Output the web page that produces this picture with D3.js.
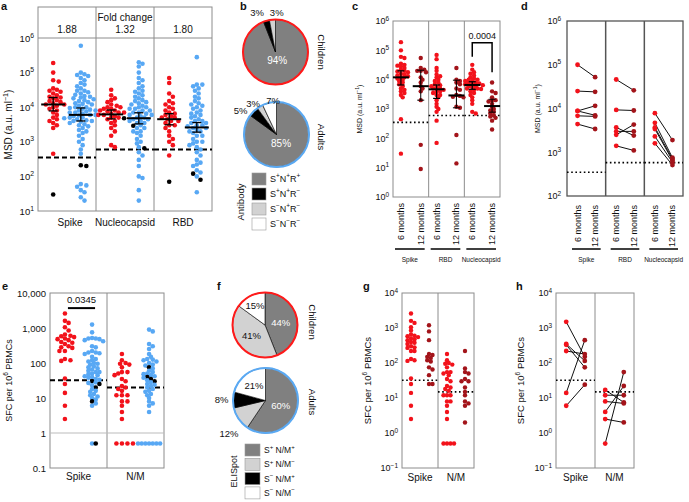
<!DOCTYPE html>
<html><head><meta charset="utf-8">
<script src="https://cdn.jsdelivr.net/npm/d3@7"></script>
<style>body{margin:0;background:#fff}svg{display:block}</style>
</head><body>
<svg id="fig" width="689" height="502"></svg>
<script>
// ================= DATA =================
// Panel a
const aCategories=["Spike","Nucleocapsid","RBD"];
const aFoldChange=["1.88","1.32","1.80"];
const aSpikeChild=[190000,100000,60000,55000,35000,32000,30000,28000,25000,22000,20000,19000,18000,16000,15000,14000,13000,12000,12000,11000,10000,9000,8000,7000,6000,5000,4500,4000,3500,3000,2500,450];
const aSpikeChildNeg=[30];
const aSpikeAdult=[600000,100000,90000,85000,80000,70000,60000,50000,45000,40000,35000,30000,30000,27000,25000,23000,21000,20000,19000,18000,17000,16000,15000,14000,13000,12500,12000,11000,10000,10000,9500,9000,8500,8000,8000,7500,7000,7000,6500,6000,6000,5800,5500,5000,5000,4800,4500,4200,4000,4000,3800,3500,3200,3000,2800,2500,2200,2000,1800,1500,1200,1000,800,600,450,60,55,50,40,35,25,20];
const aSpikeAdultNeg=[210,200];
const aNucChild=[32000,22000,18000,16000,14000,12000,11000,10000,10000,9000,9000,8000,8000,7500,7000,7000,6500,6000,6000,5500,5000,5000,4500,4000,3500,3000,2500,2000,1500,800,700];
const aNucChildNeg=[4800];
const aNucAdult=[200000,180000,150000,100000,70000,60000,50000,40000,35000,30000,28000,25000,22000,20000,18000,16000,15000,14000,13000,12000,11000,10000,10000,9000,9000,8000,8000,7000,7000,6500,6000,6000,5500,5000,5000,4500,4500,4000,4000,3500,3500,3000,2500,2500,2000,2000,1800,1500,1200,1000,900,700,500,400,300,200,100,90,40,20];
const aNucAdultNeg=[2900,650];
const aRbdChild=[70000,50000,25000,20000,15000,13000,12000,10000,9000,8000,7000,6500,6000,5500,5000,5000,4500,4000,4000,3500,3000,3000,2500,2000,1500,1200,1000,800,400];
const aRbdChildNeg=[70];
const aRbdAdult=[280000,45000,45000,40000,35000,30000,25000,20000,18000,15000,13000,12000,11000,10000,9000,8000,7000,6500,6000,5500,5000,4500,4000,4000,3500,3500,3000,3000,2800,2500,2500,2200,2000,2000,1800,1500,1500,1200,1000,1000,900,800,700,600,500,400,300,250,220,200,150,130,100,35];
const aRbdAdultNeg=[120,80];
const aMedianChild=[12000,6200,4500], aLowChild=[7800,4600,3100], aHighChild=[19000,8300,6500];
const aMedianAdult=[6000,4800,2600], aLowAdult=[4000,3300,1900], aHighAdult=[9500,6900,3600];
const aCutoff=[350,600,600];
const aTicks=[1e1,1e2,1e3,1e4,1e5,1e6];

// Panel b
const bLegend=["S^{+}N^{+}R^{+}","S^{+}N^{+}R^{−}","S^{−}N^{+}R^{−}","S^{−}N^{−}R^{−}"];
const bChildren=[94,3,3,0];
const bAdults=[85,5,3,7];

// Panel c
const cCategories=["Spike","RBD","Nucleocapsid"];
const cTimepoints=["6 months","12 months"];
const cSpike6=aSpikeChild.concat(aSpikeChildNeg);
const cSpike12=[55000,25000,22000,20000,20000,18000,12000,10000,8000,6000,5000,4000,2000,60,9];
const cRbd6=aRbdChild.concat(aRbdChildNeg);
const cRbd12=[25000,10000,9000,8000,7000,5000,4500,3000,2800,2600,2500,1200,1100,130,14];
const cNuc6=aNucChild.concat(aNucChildNeg);
const cNuc12=[8000,4000,3500,2500,2000,2000,1800,1500,1200,1000,900,800,700,600,550,500,400,200];
const cMedian6=[12000,4700,6600], cLow6=[6600,2300,4700], cHigh6=[20000,6600,8500];
const cMedian12=[6000,2900,1260], cLow12=[2000,1100,780], cHigh12=[21000,9600,2150];
const cCutoff=[350,600,600];
const cPValue="0.0004";
const cTicks=[1e0,1e1,1e2,1e3,1e4,1e5,1e6];

// Panel d (paired 6 -> 12 months)
const dSpikePairs=[[100000,52000],[25000,24000],[8800,11500],[8800,7000],[6800,6600],[4400,3400]];
const dRbdPairs=[[46000,26000],[9300,9000],[3700,2400],[3000,3000],[2500,4300],[1400,1100]];
const dNucPairs=[[7800,1900],[4700,750],[3700,700],[3400,650],[2300,590],[1600,510]];
const dCutoff=[350,580,580];
const dTicks=[1e2,1e3,1e4,1e5,1e6];

// Panel e
const eCategories=["Spike","N/M"];
const eSpikeChild=[2600,1600,1400,1050,850,650,600,580,550,500,480,450,400,380,350,300,280,270,220,220,130,120,115,36,25,14,6,2.5];
const eSpikeAdult=[1250,750,520,500,500,480,450,420,300,280,220,200,200,190,180,150,130,120,110,100,95,90,80,75,70,65,60,55,55,50,48,45,42,40,38,35,33,28,27,23,18,16,15,13,12,11,10,9,7,6,0.5];
const eSpikeAdultNeg=[30,25,20,8,0.5];
const eNMChild=[180,120,100,95,90,75,55,55,50,45,35,30,22,20,18,16,12,12,12,8,8,6,4,2.5,0.5,0.5,0.5,0.5];
const eNMAdult=[900,800,350,300,250,180,150,130,125,120,110,100,90,85,70,60,55,50,48,45,42,38,32,28,25,24,22,20,18,16,15,13,12,10,8,7,6,4,0.5,0.5,0.5,0.5,0.5,0.5,0.5];
const eNMAdultNeg=[75,40,35,30];
const eCutoff=[32,20];
const ePValue="0.0345";
const eTicks=[0.1,1,10,100,1000,10000];

// Panel f
const fLegend=["S^{+} N/M^{+}","S^{+} N/M^{−}","S^{−} N/M^{+}","S^{−} N/M^{−}"];
const fChildren=[44,41,0,15];
const fAdults=[60,12,8,21];

// Panel g
const gSpike6=eSpikeChild;
const gSpike12=[1200,800,450,180,170,150,140,120,110,75,65,45,25,25];
const gNM6=eNMChild;
const gNM12=[220,70,55,50,35,30,30,20,15,12,8,7,6,2];
const gCutoff=[32,15];
const gTicks=[0.1,1,10,100,1000,10000];

// Panel h (paired)
const hSpikePairs=[[1500,150],[350,115],[330,75],[220,180],[14,450],[6,24]];
const hNMPairs=[[17,7.5],[12,12],[8,7],[4,22],[2.5,2],[0.5,55]];
const hCutoff=[32,15];

// ================= DRAWING =================
const FONT="'Liberation Sans', Arial, Helvetica, sans-serif";
const COL={red:"#f2121b",dark:"#a3141a",blue:"#58a8f4",black:"#000",frame:"#8c8c8c",
  pieGrey:"#808080",pieLight:"#d2d2d2",pieBlack:"#000",pieWhite:"#fff"};
const svg=d3.select("#fig").attr("font-family",FONT);

function rich(t,s,fs){
  t.text(null);
  const re=/\^\{([^}]*)\}/g; let last=0,m,up=false; const sh=fs*0.42;
  while((m=re.exec(s))){
    if(m.index>last){t.append("tspan").attr("dy",up?sh:null).text(s.slice(last,m.index));up=false;}
    t.append("tspan").attr("dy",up?null:-sh).attr("font-size",fs*0.72).text(m[1]);up=true;
    last=re.lastIndex;
  }
  if(last<s.length)t.append("tspan").attr("dy",up?sh:null).text(s.slice(last));
}
function txt(x,y,s,fs,opt={}){
  const t=svg.append("text").attr("x",x).attr("y",y).attr("font-size",fs)
    .attr("text-anchor",opt.anchor||"middle").attr("fill",opt.fill||"#111");
  if(opt.weight)t.attr("font-weight",opt.weight);
  if(opt.rotate!=null)t.attr("transform",`rotate(${opt.rotate},${x},${y})`);
  rich(t,s,fs);return t;
}
function logAxis(x,y,ticks,fmt,fs){
  const g=svg.append("g").attr("transform",`translate(${x},0)`)
    .call(d3.axisLeft(y).tickValues(ticks).tickSize(0).tickPadding(4));
  g.select(".domain").remove();
  g.attr("font-family",FONT).attr("font-size",fs);
  g.selectAll(".tick text").attr("fill","#111").each(function(d){rich(d3.select(this),fmt(d),fs);});
}
const expFmt=d=>{const e=Math.round(Math.log10(d));return "10^{"+(e<0?"−"+(-e):e)+"}";};
function swarm(items,cx,y,r,f){
  const out=[];const d2=(2*r*f)**2;const step=r*0.8;
  items.slice().sort((a,b)=>b.v-a.v).forEach(it=>{
    const py=y(it.v);let px=cx;
    for(let k=0;k<120;k++){
      const tx=cx+(k%2?1:-1)*Math.ceil(k/2)*step;
      if(out.every(q=>(q.x-tx)**2+(q.y-py)**2>=d2)){px=tx;break;}
    }
    out.push({...it,x:px,y:py});
  });
  return out;
}
function dots(items,cx,y,r,f=0.9){
  svg.append("g").selectAll("circle").data(swarm(items,cx,y,r,f)).join("circle")
    .attr("cx",d=>d.x).attr("cy",d=>d.y).attr("r",r).attr("fill",d=>d.c);
}
const mk=(arr,c)=>arr.map(v=>({v,c}));
function summary(cx,y,med,lo,hi,hw,cw,sw){
  const g=svg.append("g").attr("stroke","#000");
  g.append("line").attr("x1",cx-hw).attr("x2",cx+hw).attr("y1",y(med)).attr("y2",y(med)).attr("stroke-width",2);
  g.append("line").attr("x1",cx).attr("x2",cx).attr("y1",y(lo)).attr("y2",y(hi)).attr("stroke-width",sw);
  [lo,hi].forEach(v=>g.append("line").attr("x1",cx-cw).attr("x2",cx+cw).attr("y1",y(v)).attr("y2",y(v)).attr("stroke-width",sw));
}
function hline(x1,x2,yy,opt){
  svg.append("line").attr("x1",x1).attr("x2",x2).attr("y1",yy).attr("y2",yy)
    .attr("stroke",opt.stroke||"#000").attr("stroke-width",opt.w||1).attr("stroke-dasharray",opt.dash||null);
}
function vline(xx,y1,y2,opt){
  svg.append("line").attr("x1",xx).attr("x2",xx).attr("y1",y1).attr("y2",y2)
    .attr("stroke",opt.stroke||"#000").attr("stroke-width",opt.w||1);
}
function frame(x0,x1,y0,y1,stroke,w){
  svg.append("rect").attr("x",x0).attr("y",y0).attr("width",x1-x0).attr("height",y1-y0)
    .attr("fill","none").attr("stroke",stroke).attr("stroke-width",w||1);
}
function panelLabel(x,y,s){txt(x,y,s,11,{anchor:"start",weight:"bold"});}

// ---------- Panel a ----------
{
  const x0=38,x1=212,yTop=38,yBot=211,head=7;
  const y=d3.scaleLog().domain([10,1e6]).range([yBot,yTop]);
  const xb=d3.scaleBand().domain(aCategories).range([x0,x1]);
  const sub=d3.scalePoint().domain(["Children","Adults"]).range([0,xb.bandwidth()]).padding(0.55);
  frame(x0,x1,head,yBot,COL.frame);
  hline(x0,x1,yTop,{stroke:COL.frame});
  aCategories.slice(1).forEach(c=>vline(xb(c),head,yBot,{stroke:COL.frame}));
  txt((x0+x1)/2,21,"Fold change",10);
  aCategories.forEach((c,i)=>txt(xb(c)+xb.bandwidth()/2,33,aFoldChange[i],10));
  const child=[aSpikeChild,aNucChild,aRbdChild],childNeg=[aSpikeChildNeg,aNucChildNeg,aRbdChildNeg];
  const adult=[aSpikeAdult,aNucAdult,aRbdAdult],adultNeg=[aSpikeAdultNeg,aNucAdultNeg,aRbdAdultNeg];
  aCategories.forEach((c,i)=>{
    hline(xb(c),xb(c)+xb.bandwidth(),y(aCutoff[i]),{w:2,dash:"5,3"});
  });
  aCategories.forEach((c,i)=>{
    const cx1=xb(c)+sub("Children"),cx2=xb(c)+sub("Adults");
    dots(mk(child[i],COL.red).concat(mk(childNeg[i],COL.black)),cx1,y,2.3,0.85);
    dots(mk(adult[i],COL.blue).concat(mk(adultNeg[i],COL.black)),cx2,y,2.3,0.85);
    summary(cx1,y,aMedianChild[i],aLowChild[i],aHighChild[i],12,4.5,1.3);
    summary(cx2,y,aMedianAdult[i],aLowAdult[i],aHighAdult[i],12,4.5,1.3);
    txt(xb(c)+xb.bandwidth()/2+(i==0?3:0),226,c,10);
  });
  logAxis(x0,y,aTicks,expFmt,9.5);
  txt(12,(yTop+yBot)/2,"MSD (a.u. ml^{−1})",10,{rotate:-90});
  panelLabel(1,10,"a");
}

// ---------- Pie helper ----------
function pie(cx,cy,r,vals,colors,ring,labelCfg){
  const arcs=d3.pie().sort(null).value(d=>d)(vals);
  const arc=d3.arc().innerRadius(0).outerRadius(r);
  const g=svg.append("g").attr("transform",`translate(${cx},${cy})`);
  g.selectAll("path").data(arcs.filter(a=>a.data>0)).join("path")
    .attr("d",arc).attr("fill",(d)=>colors[d.index]).attr("stroke","#000").attr("stroke-width",0.6);
  g.append("circle").attr("r",r).attr("fill","none").attr("stroke",ring).attr("stroke-width",2);
  arcs.forEach((a,i)=>{
    if(a.data<=0)return;
    const lc=labelCfg[i];
    const la=d3.arc().innerRadius(lc.r).outerRadius(lc.r);
    const [lx,ly]=la.centroid(a);
    txt(cx+lx+(lc.dx||0),cy+ly+3.5+(lc.dy||0),a.data+"%",lc.fs||9.5,{fill:lc.fill||"#111"});
  });
}
function legend(x,y0,step,w,h,colors,labels,title,titleX,fs){
  labels.forEach((l,i)=>{
    svg.append("rect").attr("x",x).attr("y",y0+i*step).attr("width",w).attr("height",h)
      .attr("fill",colors[i]).attr("stroke","#999").attr("stroke-width",0.6);
    txt(x+w+4,y0+i*step+h/2+3,l,fs,{anchor:"start"});
  });
  txt(titleX,y0+(labels.length*step)/2-1,title,fs+0.5,{rotate:-90});
}

// ---------- Panel b ----------
{
  const colors=[COL.pieGrey,COL.pieBlack,COL.pieLight,COL.pieWhite];
  pie(275.5,52,32.5,bChildren,colors,"#ff1a1a",
    [{r:9,fill:"#fff",fs:10},{r:41,dx:-7},{r:40,dx:5},{r:40}]);
  pie(276.5,134.5,32.5,bAdults,colors,"#5aa9f3",
    [{r:10,fill:"#fff",fs:10},{r:41,dx:-7,dy:5},{r:38,dx:-4,dy:2},{r:38,dx:5,dy:3}]);
  txt(318,52,"Children",9.5,{rotate:90});
  txt(318,137,"Adults",9.5,{rotate:90});
  legend(252,173,15,14,12,colors,bLegend,"Antibody",244,9);
  panelLabel(240,10,"b");
}

// ---------- Panel c ----------
{
  const x0=393,x1=500,yTop=21,yBot=197;
  const y=d3.scaleLog().domain([1,1e6]).range([yBot,yTop]);
  const xb=d3.scaleBand().domain(cCategories).range([x0,x1]);
  const sub=d3.scalePoint().domain(cTimepoints).range([0,xb.bandwidth()]).padding(0.4);
  frame(x0,x1,yTop,yBot,COL.frame);
  cCategories.slice(1).forEach(c=>vline(xb(c),yTop,yBot,{stroke:COL.frame}));
  cCategories.forEach((c,i)=>hline(xb(c),xb(c)+xb.bandwidth(),y(cCutoff[i]),{w:1.6,dash:"1.6,2.6"}));
  const v6=[cSpike6,cRbd6,cNuc6],v12=[cSpike12,cRbd12,cNuc12];
  cCategories.forEach((c,i)=>{
    const a=xb(c)+sub(cTimepoints[0]),b=xb(c)+sub(cTimepoints[1]);
    dots(mk(v6[i],COL.red),a,y,2.2,0.62);
    dots(mk(v12[i],COL.dark),b,y,2.2,0.62);
    summary(a,y,cMedian6[i],cLow6[i],cHigh6[i],8,3.5,1.2);
    summary(b,y,cMedian12[i],cLow12[i],cHigh12[i],8,3.5,1);
    txt(a+3,203,cTimepoints[0],9,{rotate:-90,anchor:"end"});
    txt(b+3,203,cTimepoints[1],9,{rotate:-90,anchor:"end"});
    hline(xb(c)+2,xb(c)+xb.bandwidth()-4,249,{w:1.5});
    txt(xb(c)+xb.bandwidth()/2-1,262,c,6.5);
  });
  const na=xb("Nucleocapsid")+sub(cTimepoints[0]),nb=xb("Nucleocapsid")+sub(cTimepoints[1]);
  svg.append("path").attr("fill","none").attr("stroke","#000").attr("stroke-width",1.5)
    .attr("d",`M${na},${y(60000)}V${y(180000)}H${nb}V${y(18000)}`);
  txt((na+nb)/2,39,cPValue,9);
  logAxis(x0,y,cTicks,expFmt,9);
  txt(362,(yTop+yBot)/2,"MSD (a.u. ml^{−1})",7,{rotate:-90});
  panelLabel(352,10,"c");
}

// ---------- Panel d ----------
{
  const x0=567,x1=683,yTop=21,yBot=196;
  const y=d3.scaleLog().domain([100,1e6]).range([yBot,yTop]);
  const xb=d3.scaleBand().domain(cCategories).range([x0,x1]);
  const sub=d3.scalePoint().domain(cTimepoints).range([0,xb.bandwidth()]).padding(0.6);
  frame(x0,x1,yTop,yBot,"#555",1.3);
  cCategories.slice(1).forEach(c=>vline(xb(c),yTop,yBot,{stroke:"#555",w:1.5}));
  cCategories.forEach((c,i)=>hline(xb(c),xb(c)+xb.bandwidth(),y(dCutoff[i]),{w:1.6,dash:"1.6,2.6"}));
  const pairs=[dSpikePairs,dRbdPairs,dNucPairs];
  cCategories.forEach((c,i)=>{
    const a=xb(c)+sub(cTimepoints[0]),b=xb(c)+sub(cTimepoints[1]);
    const g=svg.append("g");
    g.selectAll("line").data(pairs[i]).join("line").attr("x1",a).attr("x2",b)
      .attr("y1",d=>y(d[0])).attr("y2",d=>y(d[1])).attr("stroke","#111").attr("stroke-width",1);
    g.selectAll(".p6").data(pairs[i]).join("circle").attr("cx",a).attr("cy",d=>y(d[0])).attr("r",2.4).attr("fill",COL.red);
    g.selectAll(".p12").data(pairs[i]).join("circle").attr("cx",b).attr("cy",d=>y(d[1])).attr("r",2.4).attr("fill",COL.dark);
    txt(a+3,205,cTimepoints[0],9,{rotate:-90,anchor:"end"});
    txt(b+3,205,cTimepoints[1],9,{rotate:-90,anchor:"end"});
    hline(xb(c)+5,xb(c)+xb.bandwidth()-5,249,{w:1.5});
    txt(xb(c)+xb.bandwidth()/2,262,c,6.5);
  });
  logAxis(x0-2,y,dTicks,expFmt,9);
  txt(540,(yTop+yBot)/2,"MSD (a.u. ml^{−1})",7,{rotate:-90});
  panelLabel(521,10,"d");
}

// ---------- Panel e ----------
{
  const x0=50,x1=164,yTop=293,yBot=468;
  const y=d3.scaleLog().domain([0.1,1e4]).range([yBot,yTop]);
  const xb=d3.scaleBand().domain(eCategories).range([x0,x1]);
  const sub=d3.scalePoint().domain(["Children","Adults"]).range([0,xb.bandwidth()]).padding(0.55);
  frame(x0,x1,yTop,yBot,COL.frame);
  vline(xb("N/M"),yTop,yBot,{stroke:COL.frame});
  hline(x0,x1,y(1),{stroke:"#bbb",w:1});
  const ch=[eSpikeChild,eNMChild],ad=[eSpikeAdult,eNMAdult],adn=[eSpikeAdultNeg,eNMAdultNeg];
  eCategories.forEach((c,i)=>{
    hline(xb(c),xb(c)+xb.bandwidth(),y(eCutoff[i]),{w:2,dash:"5,3"});
  });
  eCategories.forEach((c,i)=>{
    dots(mk(ch[i],COL.red),xb(c)+sub("Children"),y,2.3,0.85);
    dots(mk(ad[i],COL.blue).concat(mk(adn[i],COL.black)),xb(c)+sub("Adults"),y,2.3,0.72);
    txt(xb(c)+xb.bandwidth()/2,480,c,10);
  });
  const sa=xb("Spike")+sub("Children"),sb=xb("Spike")+sub("Adults");
  hline(sa+3,sb+3,y(3700),{w:2});
  txt((sa+sb)/2+3,y(3700)-5,ePValue,9.5);
  const fmt=d=>d>=1?d3.format(",")(d):String(d);
  logAxis(x0,y,eTicks,fmt,9.5);
  txt(12,(yTop+yBot)/2,"SFC per 10^{6} PBMCs",9,{rotate:-90});
  panelLabel(2,290,"e");
}

// ---------- Panel f ----------
{
  const colors=[COL.pieGrey,COL.pieLight,COL.pieBlack,COL.pieWhite];
  pie(265,325,32.5,fChildren,colors,"#ff1a1a",
    [{r:16,fill:"#fff"},{r:17},{r:0},{r:22}]);
  pie(265.5,400.5,32.5,fAdults,colors,"#5aa9f3",
    [{r:16,fill:"#fff"},{r:48,dx:3,dy:6},{r:44},{r:19}]);
  txt(309,322,"Children",9.5,{rotate:90});
  txt(309,402,"Adults",9.5,{rotate:90});
  legend(245,444,14.3,15,12,colors,fLegend,"ELISpot",237,8.5);
  panelLabel(217,290,"f");
}

// ---------- Panel g ----------
{
  const x0=402,x1=474,yTop=293,yBot=468;
  const y=d3.scaleLog().domain([0.1,1e4]).range([yBot,yTop]);
  const xb=d3.scaleBand().domain(eCategories).range([x0,x1]);
  const sub=d3.scalePoint().domain(cTimepoints).range([0,xb.bandwidth()]).padding(0.5);
  frame(x0,x1,yTop,yBot,COL.frame);
  vline(xb("N/M"),yTop,yBot,{stroke:COL.frame});
  eCategories.forEach((c,i)=>hline(xb(c),xb(c)+xb.bandwidth(),y(gCutoff[i]),{w:1.6,dash:"1.6,2.6"}));
  const v6=[gSpike6,gNM6],v12=[gSpike12,gNM12];
  eCategories.forEach((c,i)=>{
    dots(mk(v6[i],COL.red),xb(c)+sub(cTimepoints[0]),y,2.2,0.72);
    dots(mk(v12[i],COL.dark),xb(c)+sub(cTimepoints[1]),y,2.2,0.72);
    txt(xb(c)+xb.bandwidth()/2,481,c,10);
  });
  logAxis(x0,y,gTicks,expFmt,9);
  txt(371,(yTop+yBot)/2,"SFC per 10^{6} PBMCs",9.5,{rotate:-90});
  panelLabel(363,290,"g");
}

// ---------- Panel h ----------
{
  const x0=556,x1=634,yTop=293,yBot=468;
  const y=d3.scaleLog().domain([0.1,1e4]).range([yBot,yTop]);
  const xb=d3.scaleBand().domain(eCategories).range([x0,x1]);
  const sub=d3.scalePoint().domain(cTimepoints).range([0,xb.bandwidth()]).padding(0.55);
  frame(x0,x1,yTop,yBot,COL.frame);
  vline(xb("N/M"),yTop,yBot,{stroke:COL.frame});
  eCategories.forEach((c,i)=>hline(xb(c),xb(c)+xb.bandwidth(),y(hCutoff[i]),{w:1.6,dash:"1.6,2.6"}));
  const pairs=[hSpikePairs,hNMPairs];
  eCategories.forEach((c,i)=>{
    const a=xb(c)+sub(cTimepoints[0]),b=xb(c)+sub(cTimepoints[1]);
    const g=svg.append("g");
    g.selectAll("line").data(pairs[i]).join("line").attr("x1",a).attr("x2",b)
      .attr("y1",d=>y(d[0])).attr("y2",d=>y(d[1])).attr("stroke","#111").attr("stroke-width",1);
    g.selectAll(".p6").data(pairs[i]).join("circle").attr("cx",a).attr("cy",d=>y(d[0])).attr("r",2.4).attr("fill",COL.red);
    g.selectAll(".p12").data(pairs[i]).join("circle").attr("cx",b).attr("cy",d=>y(d[1])).attr("r",2.4).attr("fill",COL.dark);
    txt(xb(c)+xb.bandwidth()/2,481,c,10);
  });
  logAxis(x0,y,gTicks,expFmt,9);
  txt(524,(yTop+yBot)/2,"SFC per 10^{6} PBMCs",9.5,{rotate:-90});
  panelLabel(516,290,"h");
}
</script>
</body></html>
